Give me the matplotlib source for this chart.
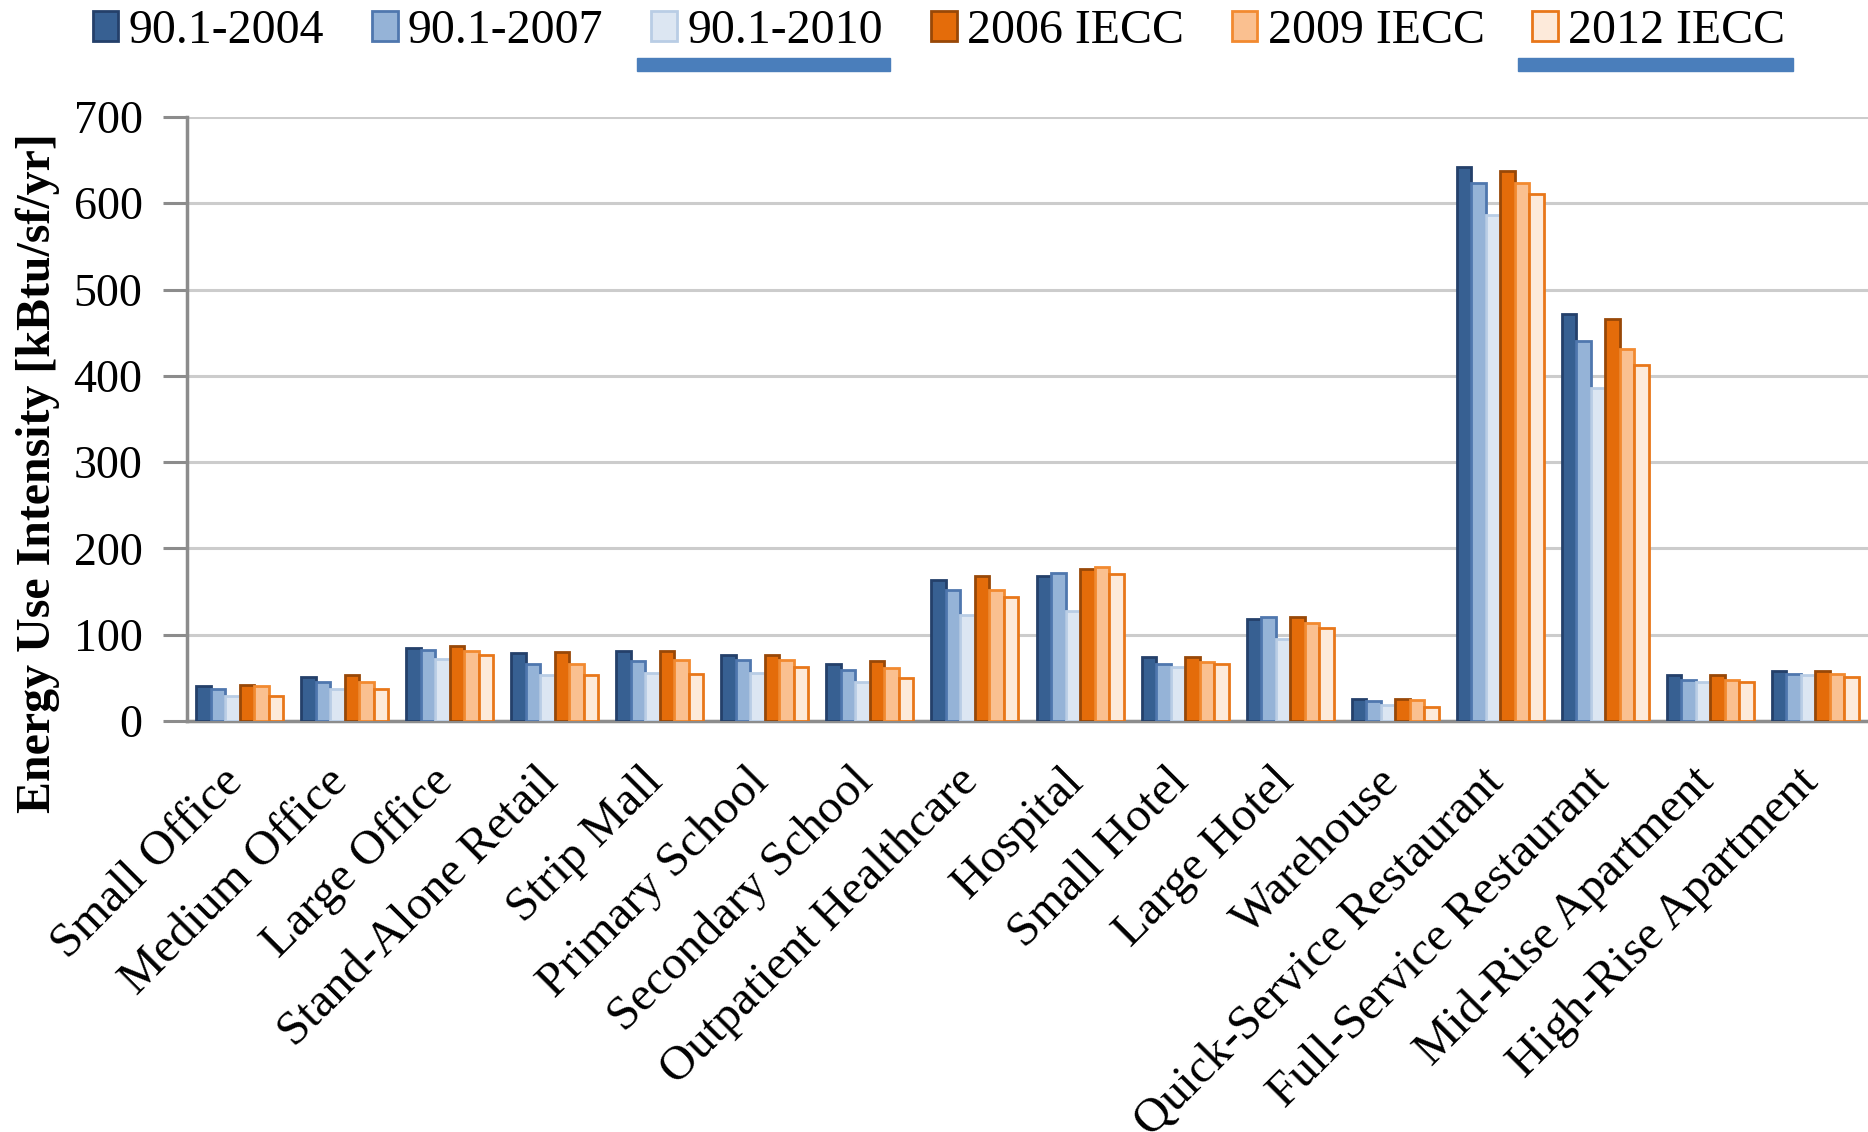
import numpy as np
import matplotlib
matplotlib.use("Agg")
import matplotlib.pyplot as plt
from matplotlib.patches import Patch, Rectangle
from matplotlib.transforms import ScaledTranslation

plt.rcParams['font.family'] = ['Liberation Serif', 'DejaVu Serif']

categories = ["Small Office", "Medium Office", "Large Office", "Stand-Alone Retail",
              "Strip Mall", "Primary School", "Secondary School", "Outpatient Healthcare",
              "Hospital", "Small Hotel", "Large Hotel", "Warehouse",
              "Quick-Service Restaurant", "Full-Service Restaurant", "Mid-Rise Apartment",
              "High-Rise Apartment"]

series_names = ["90.1-2004", "90.1-2007", "90.1-2010", "2006 IECC", "2009 IECC", "2012 IECC"]

eui_2004 = [40, 51, 84, 79, 81, 76, 66, 163, 168, 74, 118, 26, 642, 472, 53, 58]
eui_2007 = [37, 45, 82, 66, 69, 71, 59, 152, 171, 66, 121, 23, 624, 440, 47, 55]
eui_2010 = [29, 37, 72, 53, 56, 56, 45, 123, 128, 63, 95, 18, 586, 386, 45, 53]
iecc_2006 = [42, 53, 87, 80, 81, 76, 69, 168, 176, 74, 121, 26, 637, 466, 53, 58]
iecc_2009 = [40, 45, 81, 66, 71, 71, 61, 152, 179, 68, 113, 24, 624, 431, 47, 55]
iecc_2012 = [29, 37, 76, 53, 55, 63, 50, 144, 170, 66, 108, 16, 611, 412, 45, 51]

values = [eui_2004, eui_2007, eui_2010, iecc_2006, iecc_2009, iecc_2012]
underlined = ["90.1-2010", "2012 IECC"]

face_colors = ["#376092", "#95B3D7", "#DCE6F2", "#E46C0A", "#FAC090", "#FDEADA"]
edge_colors = ["#24406A", "#4F77AE", "#B9CDE5", "#984807", "#F28A30", "#E8771A"]

W, H = 1868, 1132
fig = plt.figure(figsize=(W / 100, H / 100), dpi=100)
ax = fig.add_axes([0.1001, 0.3631, 0.8999, 0.5336])

x = np.arange(len(categories))
bar_w = 0.138
for i, (vals, fc, ec) in enumerate(zip(values, face_colors, edge_colors)):
    ax.bar(x + (i - 2.5) * bar_w, vals, width=bar_w, color=fc, edgecolor=ec,
           linewidth=2, zorder=3)

ax.set_xlim(-0.5, len(categories) - 0.5)
ax.set_ylim(0, 700)
ax.set_yticks(range(0, 701, 100))
ax.yaxis.grid(True, color="#CCCCCC", linewidth=2.2, zorder=0)
ax.set_axisbelow(True)

for side in ["top", "right"]:
    ax.spines[side].set_visible(False)
for side in ["left", "bottom"]:
    ax.spines[side].set_color("#8C8C8C")
    ax.spines[side].set_linewidth(2.5)

ax.tick_params(axis="y", length=17, width=2.2, color="#8C8C8C", labelsize=33, pad=15)
ax.tick_params(axis="x", length=0, labelsize=35, pad=45)
ax.set_xticks(x)
ax.set_xticklabels(categories, rotation=45, ha="right", va="baseline", rotation_mode="anchor")
# nudge the slanted labels a little to the right
nudge = ScaledTranslation(5 / 100, 0, fig.dpi_scale_trans)
for lbl in ax.get_xticklabels():
    lbl.set_transform(lbl.get_transform() + nudge)

ax.set_ylabel("Energy Use Intensity [kBtu/sf/yr]", fontsize=34.5, fontweight="bold")
ax.yaxis.set_label_coords(-0.0755, 0.41)

handles = [Patch(facecolor=fc, edgecolor=ec, linewidth=2) for fc, ec in zip(face_colors, edge_colors)]
leg = fig.legend(handles, series_names, loc="upper center", bbox_to_anchor=(0.5027, 1.03), ncol=6,
                 frameon=False, fontsize=34.5, handlelength=0.54, handleheight=0.58,
                 handletextpad=0.21, columnspacing=1.0)

# blue underlines under two of the legend entries
fig.canvas.draw()
renderer = fig.canvas.get_renderer()
for text, handle in zip(leg.get_texts(), leg.legend_handles):
    if text.get_text() not in underlined:
        continue
    tb = text.get_window_extent(renderer)
    hb = handle.get_window_extent(renderer)
    x0 = hb.x0 - 14
    x1 = tb.x1 + 7
    fig.patches.append(Rectangle((x0 / W, 1 - 71 / H), (x1 - x0) / W, 13.5 / H,
                                 transform=fig.transFigure, color="#4A7EBB"))

fig.savefig("out.png", dpi=100)
